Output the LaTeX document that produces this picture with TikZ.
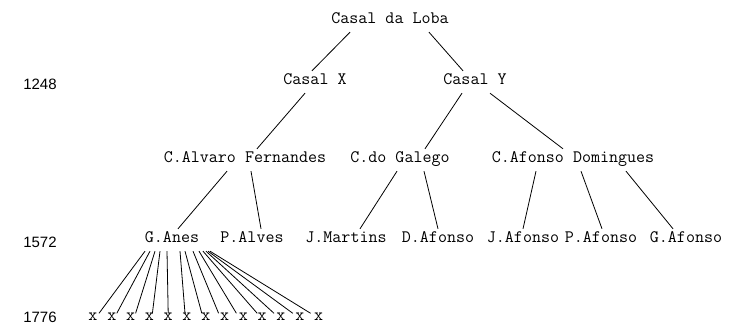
\documentclass[tikz,border=0pt]{standalone}
\usepackage{fontspec}
\setsansfont{Liberation Sans}
\usetikzlibrary{calc}
\tikzstyle{person} = [font=\fontsize{17.5}{18}\selectfont\ttfamily, inner xsep=3pt, inner ysep=6pt, text height=8pt, text depth=2pt]
\tikzstyle{kid} = [font=\fontsize{17.5}{18}\selectfont\ttfamily, inner sep=2pt, text height=5pt, text depth=0pt]
\tikzstyle{year} = [font=\fontsize{15}{16}\selectfont\sffamily]
\tikzstyle{line} = [line width=0.8pt]

\begin{document}
\begin{tikzpicture}[x=1pt, y=-1pt]
\useasboundingbox (0,0) rectangle (733,328);

% years on the left
\node(yearA) [year] at (40,84) {1248};
\node(yearB) [year] at (40,242) {1572};
\node(yearC) [year] at (40,317) {1776};

\node(loba)      [person] at (390,21) {Casal da Loba};
\node(casalx)    [person] at (315,82) {Casal X};
\node(casaly)    [person] at (475,82) {Casal Y};
\node(alvaro)    [person] at (245,160) {C.Alvaro Fernandes};
\node(galego)    [person] at (400,160) {C.do Galego};
\node(domingues) [person] at (573,160) {C.Afonso Domingues};
\node(ganes)     [person] at (172,240) {G.Anes};
\node(palves)    [person] at (252,240) {P.Alves};
\node(jmartins)  [person] at (346,240) {J.Martins};
\node(dafonso)   [person] at (438,240) {D.Afonso};
\node(jafonso)   [person] at (523,240) {J.Afonso};
\node(pafonso)   [person] at (601,240) {P.Afonso};
\node(gafonso)   [person] at (686,240) {G.Afonso};

\foreach \i in {0,...,12}
  \node(x\i) [kid] at ({93+18.8*\i},318) {x};

\draw [line] ([xshift=-40pt]loba.south) -- ([xshift=-3pt]casalx.north);
\draw [line] ([xshift=39pt]loba.south) -- ([xshift=-12pt]casaly.north);
\draw [line] ([xshift=-10pt]casalx.south) -- ([xshift=12pt]alvaro.north);
\draw [line] ([xshift=-13pt]casaly.south) -- ([xshift=25pt]galego.north);
\draw [line] ([xshift=15pt]casaly.south) -- ([xshift=-10pt]domingues.north);
\draw [line] ([xshift=-18pt]alvaro.south) -- ([xshift=6pt]ganes.north);
\draw [line] ([xshift=6pt]alvaro.south) -- ([xshift=9pt]palves.north);
\draw [line] ([xshift=-3pt]galego.south) -- ([xshift=14pt]jmartins.north);
\draw [line] ([xshift=24pt]galego.south) -- ([xshift=0pt]dafonso.north);
\draw [line] ([xshift=-37pt]domingues.south) -- ([xshift=0pt]jafonso.north);
\draw [line] ([xshift=8pt]domingues.south) -- ([xshift=1pt]pafonso.north);
\draw [line] ([xshift=53pt]domingues.south) -- ([xshift=-13pt]gafonso.north);

% G.Anes and its children
\foreach \dx/\ex [count=\i from 0] in {-27/6,-22/5,-17/5,-12/3,-5/0,8/-2,13/-4,21/-6,27/-7,31/-5,34/-7,36/-7,38/-8}
  \draw [line] ([xshift=\dx pt]ganes.south) -- ([xshift=\ex pt]x\i.north);

\end{tikzpicture}
\end{document}
